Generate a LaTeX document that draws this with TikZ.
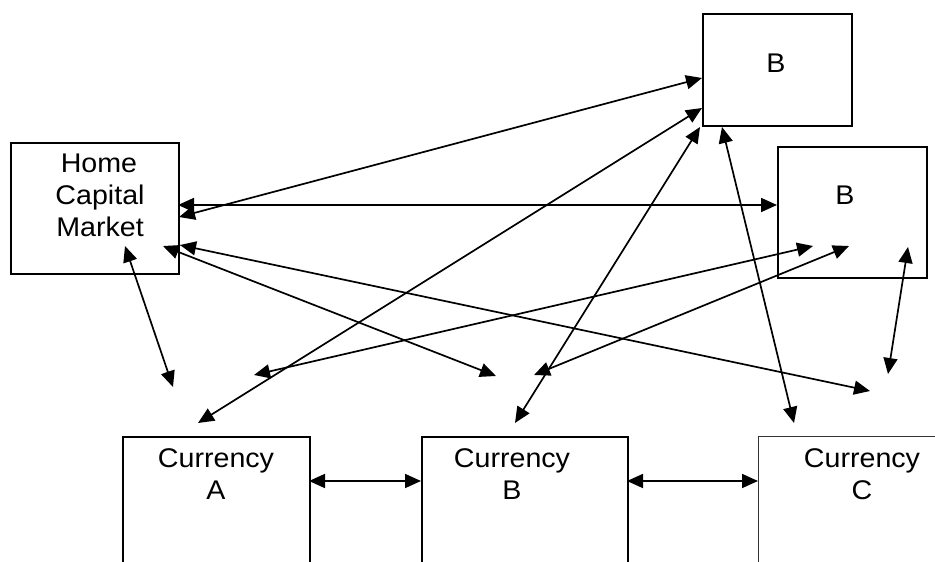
\documentclass[tikz,border=0pt]{standalone}
\usepackage{fontspec}
\setmainfont[FakeStretch=1.06]{Liberation Sans}
\usetikzlibrary{arrows.meta}
\begin{document}
\begin{tikzpicture}[x=1pt,y=-1pt,
  box/.style={draw=black,line width=1.8pt},
  lbl/.style={anchor=base,inner sep=0pt,font=\fontsize{27}{32}\selectfont},
  conn/.style={line width=1.7pt,{Triangle[length=16pt 0,width=14pt 0]}-{Triangle[length=16pt 0,width=14pt 0]}}]
\useasboundingbox (0,0) rectangle (935,562);
\clip (0,0) rectangle (935,562);
\fill[white] (0,0) rectangle (935,562);
% boxes
\node[box,minimum width=168pt,minimum height=131pt,inner sep=0pt,anchor=north west] (home) at (10,142) {};
\node[box,minimum width=149pt,minimum height=112pt,inner sep=0pt,anchor=north west] (ub) at (702,13) {};
\node[box,minimum width=149pt,minimum height=131pt,inner sep=0pt,anchor=north west] (lb) at (777,146) {};
\node[box,minimum width=187pt,minimum height=150pt,inner sep=0pt,anchor=north west] (ca) at (122,436) {};
\node[box,minimum width=206pt,minimum height=150pt,inner sep=0pt,anchor=north west] (cb) at (421,436) {};
\node[draw=black!80,line width=1pt,minimum width=220pt,minimum height=150pt,inner sep=0pt,anchor=north west] (cc) at (758,436) {};
% texts
\node[lbl] (t1) at (99,172) {Home};
\node[lbl] (t2) at (100,204) {Capital};
\node[lbl] (t3) at (100,236) {Market};
\node[lbl] (t4) at (776,72) {B};
\node[lbl] (t5) at (845,204) {B};
\node[lbl] (t6) at (216,467) {Currency};
\node[lbl] (t7) at (216,499) {A};
\node[lbl] (t8) at (512,467) {Currency};
\node[lbl] (t9) at (512,499) {B};
\node[lbl] (t10) at (862,467) {Currency};
\node[lbl] (t11) at (862,499) {C};
% endpoints
\coordinate (h1) at (178,205); \coordinate (l1) at (777,205);
\coordinate (h2) at (179,217); \coordinate (u1) at (702,78);
\coordinate (h3) at (180,245); \coordinate (p3) at (870,391);
\coordinate (h4) at (163,246); \coordinate (p4) at (496,376);
\coordinate (h5) at (125,246); \coordinate (p5) at (173,387);
\coordinate (u2) at (702,108); \coordinate (a1) at (198,423);
\coordinate (u3) at (700,127); \coordinate (b1) at (515,423);
\coordinate (u4) at (722,127); \coordinate (c1) at (794,423);
\coordinate (l2) at (813,246); \coordinate (p9) at (254,375);
\coordinate (l3) at (849,246); \coordinate (p10) at (534,375);
\coordinate (l4) at (908,247); \coordinate (p11) at (888,374);
\coordinate (ar) at (309,481); \coordinate (bl) at (421,481);
\coordinate (br) at (627,481); \coordinate (cl) at (758,481);
% connectors
\draw[conn] (h1) -- (l1);
\draw[conn] (h2) -- (u1);
\draw[conn] (h3) -- (p3);
\draw[conn] (h4) -- (p4);
\draw[conn] (h5) -- (p5);
\draw[conn] (u2) -- (a1);
\draw[conn] (u3) -- (b1);
\draw[conn] (u4) -- (c1);
\draw[conn] (l2) -- (p9);
\draw[conn] (l3) -- (p10);
\draw[conn] (l4) -- (p11);
\draw[conn] (ar) -- (bl);
\draw[conn] (br) -- (cl);
\end{tikzpicture}
\end{document}
